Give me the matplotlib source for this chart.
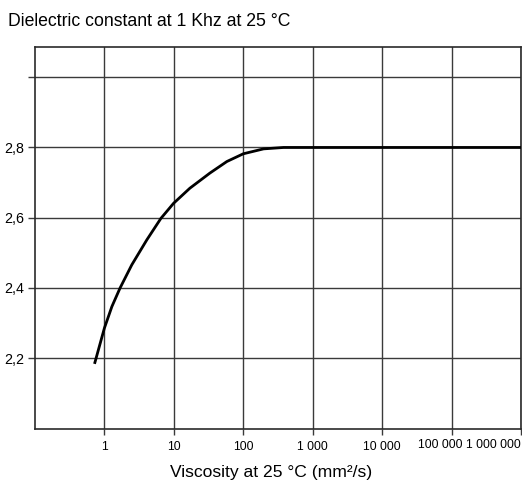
import matplotlib
matplotlib.use("Agg")
import matplotlib.pyplot as plt
import matplotlib.transforms as mtransforms

plt.rcParams['font.family'] = ['Liberation Sans', 'DejaVu Sans']

# Data
viscosity = [0.72, 1.0, 1.28, 1.68, 2.48, 4.08, 6.5, 9.9, 17, 33, 58, 100, 196, 380, 1e6]
dielectric = [2.184, 2.286, 2.347, 2.4, 2.466, 2.537, 2.598, 2.641, 2.684, 2.727, 2.760, 2.782, 2.796, 2.8, 2.8]

x_ticks = [1, 10, 100, 1000, 10000, 100000, 1000000]
x_tick_labels = ["1", "10", "100", "1 000", "10 000", "100 000", "1 000 000"]
y_ticks = [2.2, 2.4, 2.6, 2.8, 3.0]
y_tick_labels = ["2,2", "2,4", "2,6", "2,8", ""]

title = "Dielectric constant at 1 Khz at 25 °C"
xlabel = "Viscosity at 25 °C (mm²/s)"

fig = plt.figure(figsize=(5.22, 4.82), dpi=100)
ax = fig.add_axes([35/522, 1 - 428.5/482, (521 - 35)/522, (428.5 - 47)/482])

ax.set_xscale('log')
ax.set_xlim(0.1, 1e6)
ax.set_ylim(2.0, 3.086)

ax.plot(viscosity, dielectric, color='black', lw=2.0, solid_capstyle='butt',
        solid_joinstyle='round', zorder=3)

gridc = '#3a3a3a'
ax.set_xticks(x_ticks)
ax.set_xticklabels(x_tick_labels[:-2] + ["", ""])
ax.xaxis.set_minor_locator(matplotlib.ticker.NullLocator())
ax.set_yticks(y_ticks)
ax.set_yticklabels(y_tick_labels)
ax.grid(True, color=gridc, lw=1.0)
ax.set_axisbelow(True)

ax.tick_params(axis='x', direction='out', length=4, width=1.0, color=gridc, pad=5, labelsize=8.7)
ax.tick_params(axis='y', direction='out', length=5, width=1.0, color=gridc, pad=2.5, labelsize=10.3)

for s in ax.spines.values():
    s.set_color('#2a2a2a')
    s.set_linewidth(1.2)

# shifted labels for the two crowded right-hand ticks
base = ax.get_xaxis_transform()
off1 = mtransforms.ScaledTranslation(-11/100, -16.5/100, fig.dpi_scale_trans)
ax.text(x_ticks[-2], 0, x_tick_labels[-2], transform=base + off1, ha='center', va='center', fontsize=8.7)
off2 = mtransforms.ScaledTranslation(0, -16.5/100, fig.dpi_scale_trans)
ax.text(x_ticks[-1], 0, x_tick_labels[-1], transform=base + off2, ha='right', va='center', fontsize=8.7)

fig.text(8/522, 1 - 22/482, title, ha='left', va='center', fontsize=12.7)
fig.text(271/522, 1 - 472/482, xlabel, ha='center', va='center', fontsize=12.6)

fig.savefig("out.png", dpi=100)
